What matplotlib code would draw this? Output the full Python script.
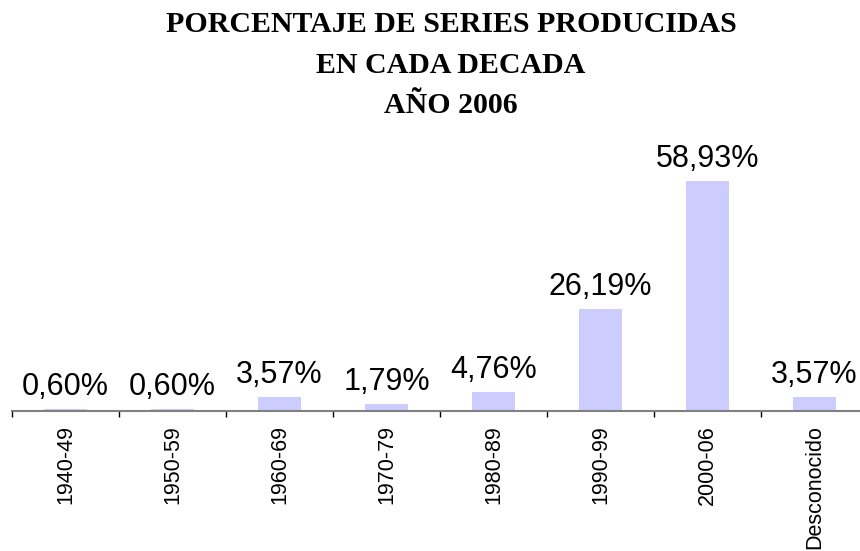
import matplotlib.pyplot as plt
import numpy as np

decadas = ["1940-49", "1950-59", "1960-69", "1970-79", "1980-89",
           "1990-99", "2000-06", "Desconocido"]
porcentajes = [0.60, 0.60, 3.57, 1.79, 4.76, 26.19, 58.93, 3.57]
etiquetas = ["0,60%", "0,60%", "3,57%", "1,79%", "4,76%",
             "26,19%", "58,93%", "3,57%"]

fig = plt.figure(figsize=(8.6, 5.51), dpi=100)
ax = fig.add_axes([12 / 860, 1 - 411 / 551, 856 / 860, 253.5 / 551])

x = np.arange(len(decadas))
barras = ax.bar(x, porcentajes, width=0.41, color="#CCCCFF")

for b, txt in zip(barras, etiquetas):
    ax.annotate(txt, (b.get_x() + b.get_width() / 2, b.get_height()),
                xytext=(0, 5), textcoords="offset points",
                ha="center", va="bottom", fontsize=22,
                family="Liberation Sans")

ax.set_xlim(-0.5, 7.5)
ax.set_ylim(0, 65)
ax.set_yticks([])
for s in ["top", "right", "left"]:
    ax.spines[s].set_visible(False)
ax.spines["bottom"].set_color("#808080")
ax.spines["bottom"].set_linewidth(1.5)

ax.set_xticks(x)
ax.set_xticklabels(decadas, rotation=90, fontsize=15.5,
                   family="Liberation Sans")
ax.set_xticks(np.arange(-0.5, 8, 1), minor=True)
ax.tick_params(axis="x", which="major", length=0, pad=10)
ax.tick_params(axis="x", which="minor", length=4, width=1, color="black")

fig.text(451 / 860, 1 - 11 / 551,
         "PORCENTAJE DE SERIES PRODUCIDAS\nEN CADA DECADA\nAÑO 2006",
         ha="center", va="top", fontsize=21.5, fontweight="bold",
         family="Liberation Serif", linespacing=1.65)

fig.savefig("out.png", dpi=100)
